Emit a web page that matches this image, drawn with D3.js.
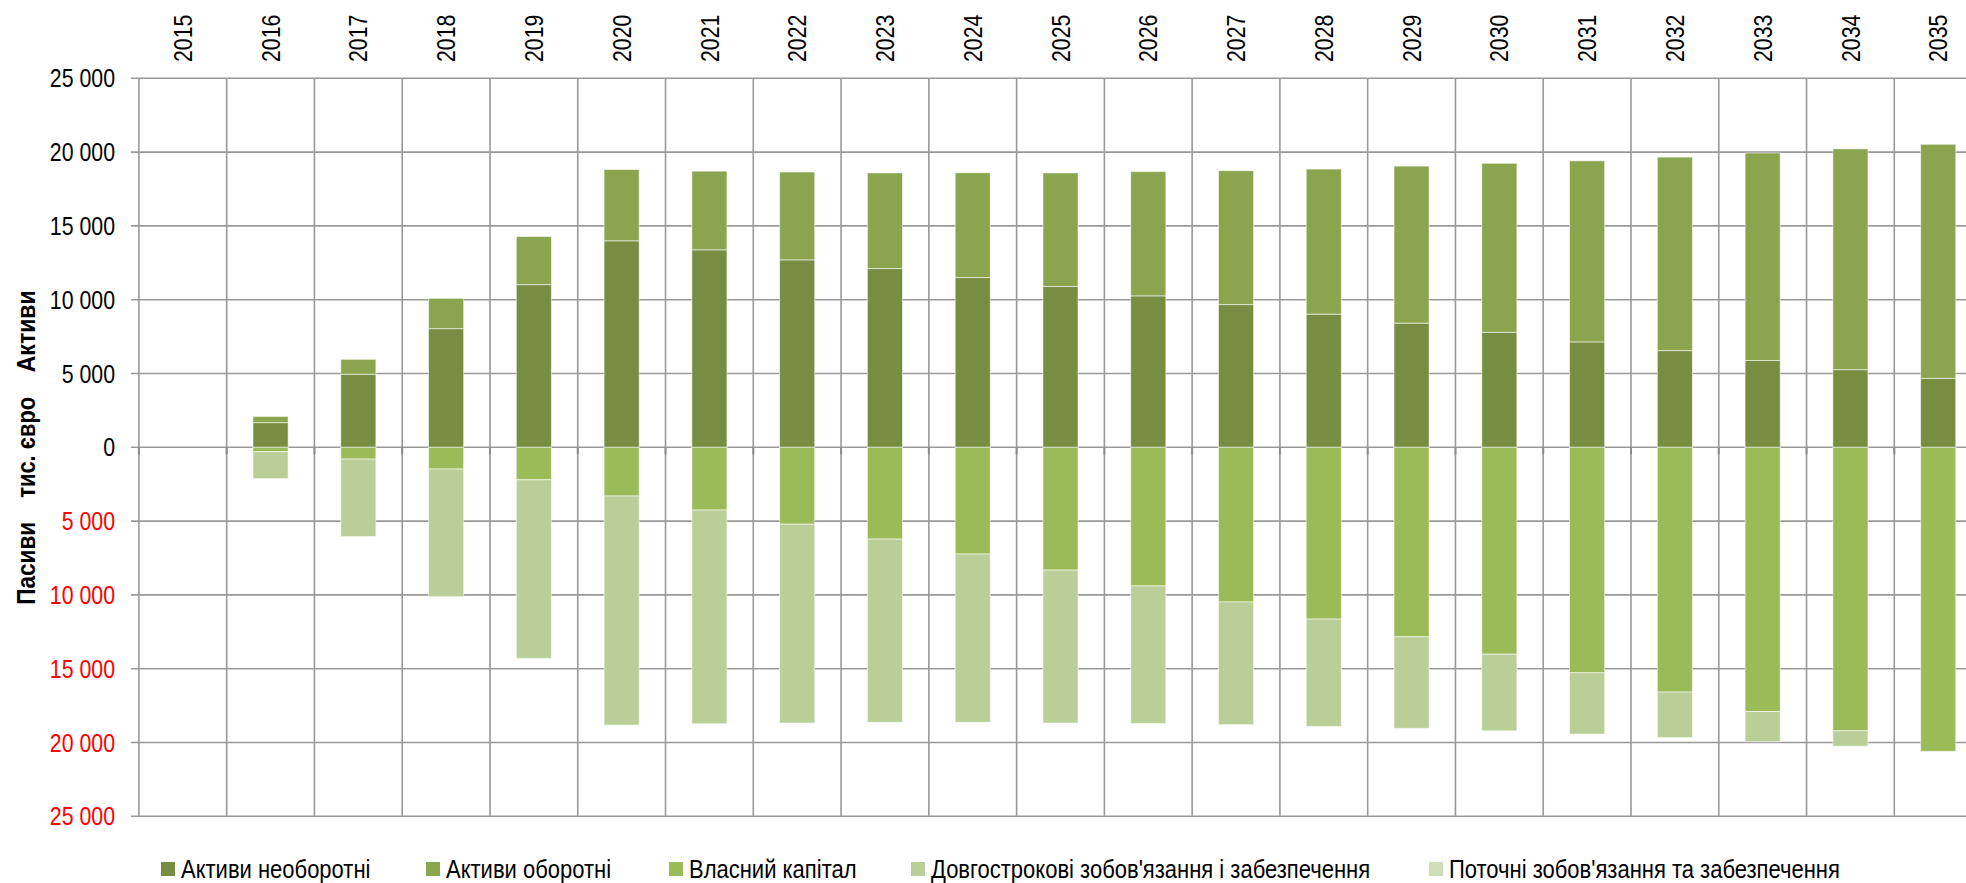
<!DOCTYPE html>
<html>
<head>
<meta charset="utf-8">
<script src="https://cdn.jsdelivr.net/npm/d3@7"></script>
<style>
  html, body { margin: 0; padding: 0; background: #fff; }
  svg { display: block; }
  text { font-family: "Liberation Sans", Arial, sans-serif; }
</style>
</head>
<body>
<svg id="chart" width="1966" height="883"></svg>
<script>
// Years on the category axis
const years = ["2015","2016","2017","2018","2019","2020","2021","2022","2023","2024",
               "2025","2026","2027","2028","2029","2030","2031","2032","2033","2034","2035"];

// Assets, thousand euro
const nonCurrentAssets = [0, 1670, 4950, 8040, 11020, 13990, 13380, 12700, 12110, 11500,
                          10900, 10260, 9670, 9020, 8410, 7790, 7140, 6550, 5880, 5260, 4670];
const currentAssets    = [0, 420, 1010, 2050, 3260, 4830, 5330, 5950, 6480, 7100,
                          7690, 8420, 9070, 9830, 10640, 11450, 12270, 13110, 14060, 14960, 15860];

// Liabilities and equity, thousand euro (drawn below zero)
const equity               = [0, 300, 800, 1470, 2200, 3300, 4250, 5210, 6220, 7230,
                              8320, 9390, 10480, 11640, 12840, 14020, 15280, 16580, 17900, 19210, 20600];
const longTermLiabilities  = [0, 1820, 5250, 8650, 12100, 15520, 14480, 13470, 12410, 11400,
                              10360, 9320, 8310, 7270, 6200, 5190, 4150, 3090, 2050, 1040, 0];
const currentLiabilities   = [0, 0, 0, 0, 0, 0, 0, 0, 0, 0,
                              0, 0, 0, 0, 0, 0, 0, 0, 0, 0, 0];

// Value axis ticks
const yTicks = [-25000, -20000, -15000, -10000, -5000, 0, 5000, 10000, 15000, 20000, 25000];

const seriesNames = [
  "Активи необоротні",
  "Активи оборотні",
  "Власний капітал",
  "Довгострокові зобов'язання і забезпечення",
  "Поточні зобов'язання та забезпечення"
];
const seriesColors = ["#768d42", "#8ba54f", "#9bbb59", "#bacf97", "#cfdeb9"];
const keys = ["nca", "ca", "eq", "ltl", "cl"];

const rows = years.map((y, i) => ({
  year: y,
  nca: nonCurrentAssets[i],
  ca: currentAssets[i],
  eq: -equity[i],
  ltl: -longTermLiabilities[i],
  cl: -currentLiabilities[i]
}));

// Condensed lettering: regular sans squeezed horizontally
const NARROW = 0.82;

const svg = d3.select("#chart");

const plotLeft = 138.9, plotTop = 78.3, plotBottom = 816.3;
const step = 87.77;
const plotRight = plotLeft + step * years.length;

const x = d3.scaleBand()
  .domain(years)
  .range([plotLeft, plotRight])
  .paddingInner(0.6)
  .paddingOuter(0.3);

const y = d3.scaleLinear()
  .domain([-25000, 25000])
  .range([plotBottom, plotTop]);

const gridColor = "#999999";

// Horizontal gridlines (with short outward ticks on the left)
svg.append("g")
  .selectAll("line")
  .data(yTicks)
  .join("line")
  .attr("x1", plotLeft - 8)
  .attr("x2", plotRight)
  .attr("y1", d => y(d))
  .attr("y2", d => y(d))
  .attr("stroke", gridColor)
  .attr("stroke-width", 1.6);

// Vertical gridlines at category boundaries
const bounds = d3.range(years.length + 1).map(i => plotLeft + i * x.step());
svg.append("g")
  .selectAll("line")
  .data(bounds)
  .join("line")
  .attr("x1", d => d)
  .attr("x2", d => d)
  .attr("y1", plotTop)
  .attr("y2", plotBottom)
  .attr("stroke", gridColor)
  .attr("stroke-width", 1.6);

// Stacked bars, positives up and negatives down
const stack = d3.stack().keys(keys).offset(d3.stackOffsetDiverging);
const layers = stack(rows);

svg.append("g")
  .selectAll("g")
  .data(layers)
  .join("g")
  .attr("fill", (d, i) => seriesColors[i])
  .selectAll("rect")
  .data(d => d.filter(s => s[1] !== s[0]))
  .join("rect")
  .attr("x", d => x(d.data.year))
  .attr("width", x.bandwidth())
  .attr("y", d => y(Math.max(d[0], d[1])))
  .attr("height", d => Math.abs(y(d[0]) - y(d[1])))
  .attr("stroke", "rgba(255,255,255,0.55)")
  .attr("stroke-width", 1);

// Category tick marks just below zero
svg.append("g")
  .selectAll("line")
  .data(bounds)
  .join("line")
  .attr("x1", d => d)
  .attr("x2", d => d)
  .attr("y1", y(0))
  .attr("y2", y(0) + 7)
  .attr("stroke", "#8c8c8c")
  .attr("stroke-width", 2);

// Value axis labels (liabilities side in red, shown unsigned)
const fmt = v => d3.format(",")(Math.abs(v)).replace(/,/g, " ");
svg.append("g")
  .selectAll("text")
  .data(yTicks)
  .join("text")
  .attr("transform", d => `translate(115,${y(d)}) scale(${NARROW},1)`)
  .attr("dy", "0.35em")
  .attr("text-anchor", "end")
  .attr("font-size", 26)
  .attr("fill", d => d < 0 ? "#ff0000" : "#000000")
  .text(fmt);

// Year labels along the top, reading upward
svg.append("g")
  .selectAll("text")
  .data(years)
  .join("text")
  .attr("transform", d => `translate(${x(d) + x.bandwidth() / 2},62) rotate(-90) scale(${NARROW},1)`)
  .attr("dy", "0.35em")
  .attr("text-anchor", "start")
  .attr("font-size", 26)
  .attr("fill", "#000")
  .text(d => d);

// Axis title, three words spread along the value axis
const titleParts = [
  { t: "Активи", off: -116, len: 82 },
  { t: "тис. євро", off: 0, len: 101 },
  { t: "Пасиви", off: 116, len: 83 }
];
svg.append("g")
  .selectAll("text")
  .data(titleParts)
  .join("text")
  .attr("transform", d => `translate(26,${y(0) + d.off}) rotate(-90)`)
  .attr("dy", "0.35em")
  .attr("text-anchor", "middle")
  .attr("font-size", 25)
  .attr("font-weight", "bold")
  .attr("textLength", d => d.len)
  .attr("lengthAdjust", "spacingAndGlyphs")
  .attr("fill", "#000")
  .text(d => d.t);

// Legend
const legendX = [161, 426, 669, 911, 1429];
const legend = svg.append("g")
  .selectAll("g")
  .data(seriesNames)
  .join("g")
  .attr("transform", (d, i) => `translate(${legendX[i]},862)`);
legend.append("rect")
  .attr("width", 14)
  .attr("height", 14)
  .attr("fill", (d, i) => seriesColors[i]);
legend.append("text")
  .attr("transform", "translate(20,15.5) scale(0.88,1)")
  .attr("font-size", 25)
  .attr("fill", "#000")
  .text(d => d);
</script>
</body>
</html>
